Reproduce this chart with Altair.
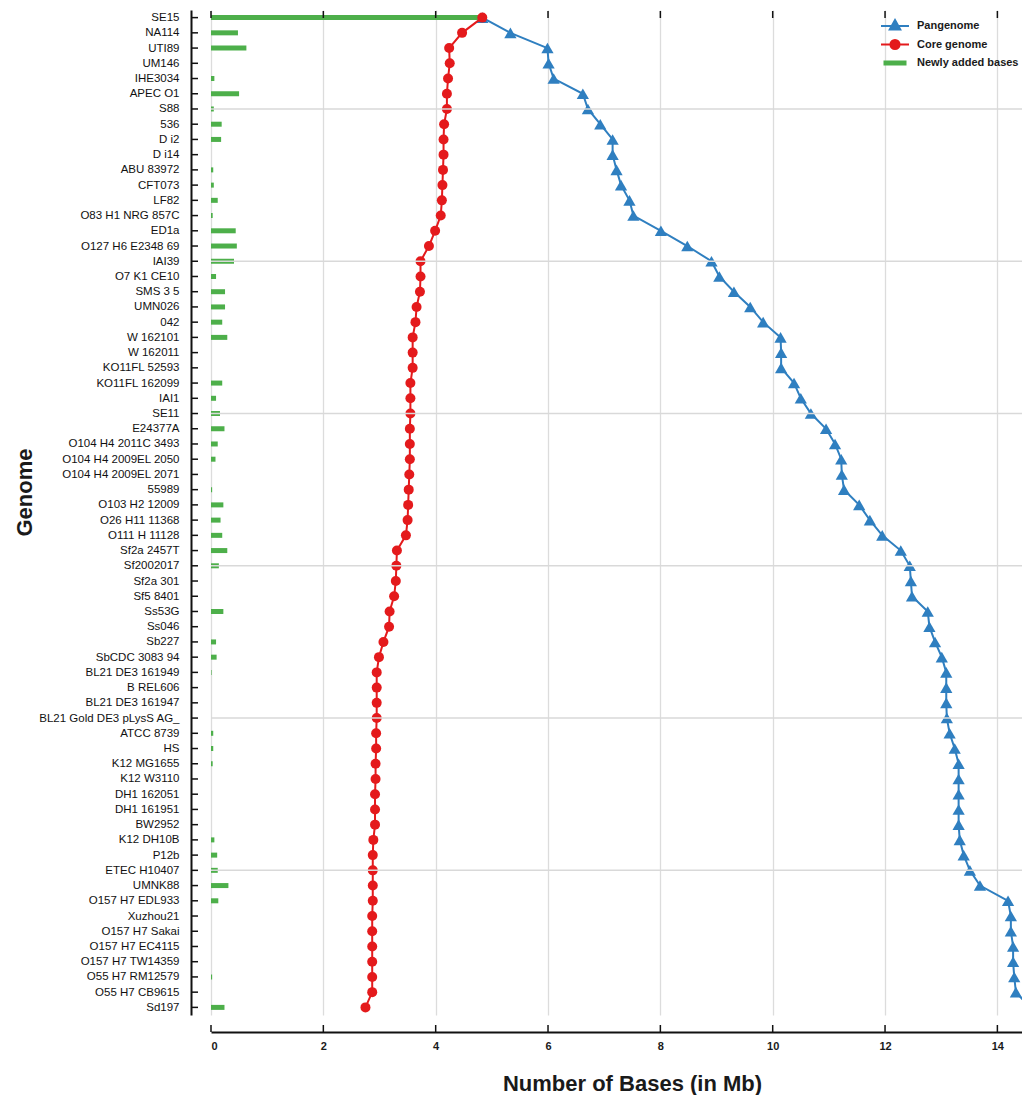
import altair as alt
import pandas as pd

genomes = [
    "SE15", "NA114", "UTI89", "UM146", "IHE3034", "APEC O1", "S88", "536", "D i2", "D i14",
    "ABU 83972", "CFT073", "LF82", "O83 H1 NRG 857C", "ED1a", "O127 H6 E2348 69", "IAI39",
    "O7 K1 CE10", "SMS 3 5", "UMN026", "042", "W 162101", "W 162011", "KO11FL 52593",
    "KO11FL 162099", "IAI1", "SE11", "E24377A", "O104 H4 2011C 3493", "O104 H4 2009EL 2050",
    "O104 H4 2009EL 2071", "55989", "O103 H2 12009", "O26 H11 11368", "O111 H 11128",
    "Sf2a 2457T", "Sf2002017", "Sf2a 301", "Sf5 8401", "Ss53G", "Ss046", "Sb227",
    "SbCDC 3083 94", "BL21 DE3 161949", "B REL606", "BL21 DE3 161947",
    "BL21 Gold DE3 pLysS AG_", "ATCC 8739", "HS", "K12 MG1655", "K12 W3110", "DH1 162051",
    "DH1 161951", "BW2952", "K12 DH10B", "P12b", "ETEC H10407", "UMNK88", "O157 H7 EDL933",
    "Xuzhou21", "O157 H7 Sakai", "O157 H7 EC4115", "O157 H7 TW14359", "O55 H7 RM12579",
    "O55 H7 CB9615", "Sd197",
]

core_genome = [
    4.83, 4.47, 4.24, 4.25, 4.22, 4.20, 4.20, 4.15, 4.14, 4.14,
    4.13, 4.12, 4.11, 4.09, 3.99, 3.88, 3.73, 3.73, 3.72, 3.66,
    3.64, 3.59, 3.59, 3.59, 3.55, 3.55, 3.55, 3.54, 3.54, 3.54,
    3.53, 3.52, 3.51, 3.50, 3.47, 3.31, 3.30, 3.29, 3.26, 3.18,
    3.17, 3.07, 2.99, 2.95, 2.95, 2.95, 2.95, 2.94, 2.94, 2.93,
    2.93, 2.92, 2.92, 2.92, 2.89, 2.88, 2.88, 2.88, 2.88, 2.87,
    2.87, 2.87, 2.87, 2.87, 2.87, 2.75,
]

pangenome = [
    4.83, 5.33, 5.99, 6.01, 6.10, 6.62, 6.71, 6.93, 7.15, 7.15,
    7.22, 7.30, 7.45, 7.52, 8.01, 8.48, 8.91, 9.05, 9.31, 9.60,
    9.83, 10.14, 10.15, 10.15, 10.38, 10.50, 10.68, 10.95, 11.11, 11.22,
    11.23, 11.27, 11.54, 11.73, 11.95, 12.28, 12.44, 12.46, 12.48, 12.76,
    12.79, 12.89, 13.01, 13.09, 13.09, 13.09, 13.10, 13.15, 13.24, 13.31,
    13.31, 13.31, 13.31, 13.31, 13.33, 13.40, 13.51, 13.69, 14.19, 14.24,
    14.24, 14.28, 14.28, 14.30, 14.33, 14.58,
]

newly_added = [
    4.83, 0.48, 0.63, 0.00, 0.06, 0.50, 0.05, 0.19, 0.18, 0.00,
    0.04, 0.05, 0.12, 0.03, 0.44, 0.46, 0.41, 0.09, 0.25, 0.25,
    0.20, 0.29, 0.00, 0.00, 0.20, 0.09, 0.16, 0.24, 0.12, 0.08,
    0.00, 0.02, 0.22, 0.17, 0.20, 0.29, 0.14, 0.00, 0.00, 0.22,
    0.00, 0.09, 0.10, 0.01, 0.00, 0.00, 0.00, 0.04, 0.04, 0.03,
    0.00, 0.00, 0.00, 0.00, 0.06, 0.11, 0.12, 0.31, 0.13, 0.00,
    0.00, 0.00, 0.00, 0.02, 0.00, 0.24,
]

x_ticks = [0, 2, 4, 6, 8, 10, 12, 14]
series_names = ["Pangenome", "Core genome", "Newly added bases"]
series_colors = ["#2f7fc0", "#e41a1c", "#4daf4a"]
legend_paths = [
    "M-2,0H2M0,-0.85L0.75,0.5L-0.75,0.5Z",
    "M-2,0H2M0.65,0A0.65,0.65,0,1,1,-0.65,0A0.65,0.65,0,1,1,0.65,0Z",
    "M-1.5,-0.22H1.5V0.22H-1.5Z",
]

PX_PER_MB = 56.17
W = 811
H = 1005
FONT = "Liberation Sans"
BLUE, RED, GREEN = series_colors

df = pd.DataFrame({
    "genome": genomes,
    "core": core_genome,
    "pan": pangenome,
    "added": newly_added,
    "order": list(range(len(genomes))),
})
ticks_df = pd.DataFrame({"v": x_ticks})
grid_df = pd.DataFrame({"genome": genomes[6::10]})
legend_df = pd.DataFrame({"series": series_names})

xscale = alt.Scale(domain=[0, W / PX_PER_MB], nice=False, zero=False)
yscale = alt.Scale(type="point", domain=genomes, padding=0.5)

x_axis = alt.Axis(
    title="Number of Bases (in Mb)", values=x_ticks, format="d", offset=17,
    ticks=False, labelPadding=8, labelFont=FONT, labelFontSize=11, labelFontWeight="bold",
    labelColor="#1a1a1a", domainColor="#111111", domainWidth=2,
    grid=True, gridColor="#dcdcdc", gridWidth=1.3,
    titleFont=FONT, titleFontSize=22, titleFontWeight="bold", titleColor="#1a1a1a",
    titleX=421, titleY=58, titleBaseline="alphabetic", titleAlign="center",
)
y_axis = alt.Axis(
    title="Genome", offset=20, ticks=False, labelPadding=12, labelFont=FONT,
    labelFontSize=11.5, labelColor="#111111", domainColor="#111111", domainWidth=2,
    grid=False, titleFont=FONT, titleFontSize=22, titleFontWeight="bold",
    titleColor="#1a1a1a", titleX=-167, titleY=482, titleBaseline="middle", titleAngle=-90,
)

X = lambda f: alt.X(f, scale=xscale, axis=x_axis)
Y = alt.Y("genome:N", scale=yscale, axis=y_axis)

bars = alt.Chart(df).mark_bar(size=5, color=GREEN).encode(x=X("added:Q"), y=Y)

pan_line = alt.Chart(df).mark_line(color=BLUE, strokeWidth=2, clip=True).encode(
    x=X("pan:Q"), y=Y, order="order:Q",
)
pan_pts = alt.Chart(df).mark_point(
    shape="triangle-up", filled=True, size=150, color=BLUE, opacity=1, clip=True
).encode(x=X("pan:Q"), y=Y)

core_line = alt.Chart(df).mark_line(color=RED, strokeWidth=2, clip=True).encode(
    x=X("core:Q"), y=Y, order="order:Q",
)
core_pts = alt.Chart(df).mark_point(
    shape="circle", filled=True, size=100, color=RED, opacity=1, clip=True
).encode(x=X("core:Q"), y=Y)

hgrid = alt.Chart(grid_df).mark_rule(color="#d9d9d9", strokeWidth=1.5).encode(
    y=Y, x=alt.value(0), x2=alt.value(W),
)

y_ticks = alt.Chart(df).mark_rule(color="#111111", strokeWidth=1.5).encode(
    y=Y, x=alt.value(-20), x2=alt.value(-13),
)
top_ticks = alt.Chart(ticks_df).mark_rule(color="#111111", strokeWidth=1.5).encode(
    x=X("v:Q"), y=alt.value(1), y2=alt.value(8),
)
bottom_ticks = alt.Chart(ticks_df).mark_rule(color="#111111", strokeWidth=1.5).encode(
    x=X("v:Q"), y=alt.value(H + 10), y2=alt.value(H + 17),
)

leg = alt.Legend(
    title=None, orient="none", legendX=676, legendY=8, padding=0,
    symbolSize=196, symbolStrokeWidth=2, symbolOpacity=1, labelOffset=14, rowPadding=1.5,
    labelFont=FONT, labelFontSize=11, labelFontWeight="bold", labelColor="#1a1a1a",
)
legend_layer = alt.Chart(legend_df).transform_filter("false").mark_point(
    filled=True, opacity=1, strokeWidth=2
).encode(
    fill=alt.Fill("series:N", scale=alt.Scale(domain=series_names, range=series_colors), legend=leg),
    stroke=alt.Stroke("series:N", scale=alt.Scale(domain=series_names, range=series_colors), legend=leg),
    shape=alt.Shape("series:N", scale=alt.Scale(domain=series_names, range=legend_paths), legend=leg),
)

chart = alt.layer(
    bars, pan_line, pan_pts, core_line, core_pts, hgrid,
    y_ticks, top_ticks, bottom_ticks, legend_layer,
).properties(
    width=W,
    height=H,
    padding={"left": 203, "top": 2, "right": 0, "bottom": 80},
    autosize=alt.AutoSizeParams(type="none"),
    background="white",
).configure_view(stroke=None)

chart.save("out.html", embed_options={"renderer": "svg", "actions": False})
